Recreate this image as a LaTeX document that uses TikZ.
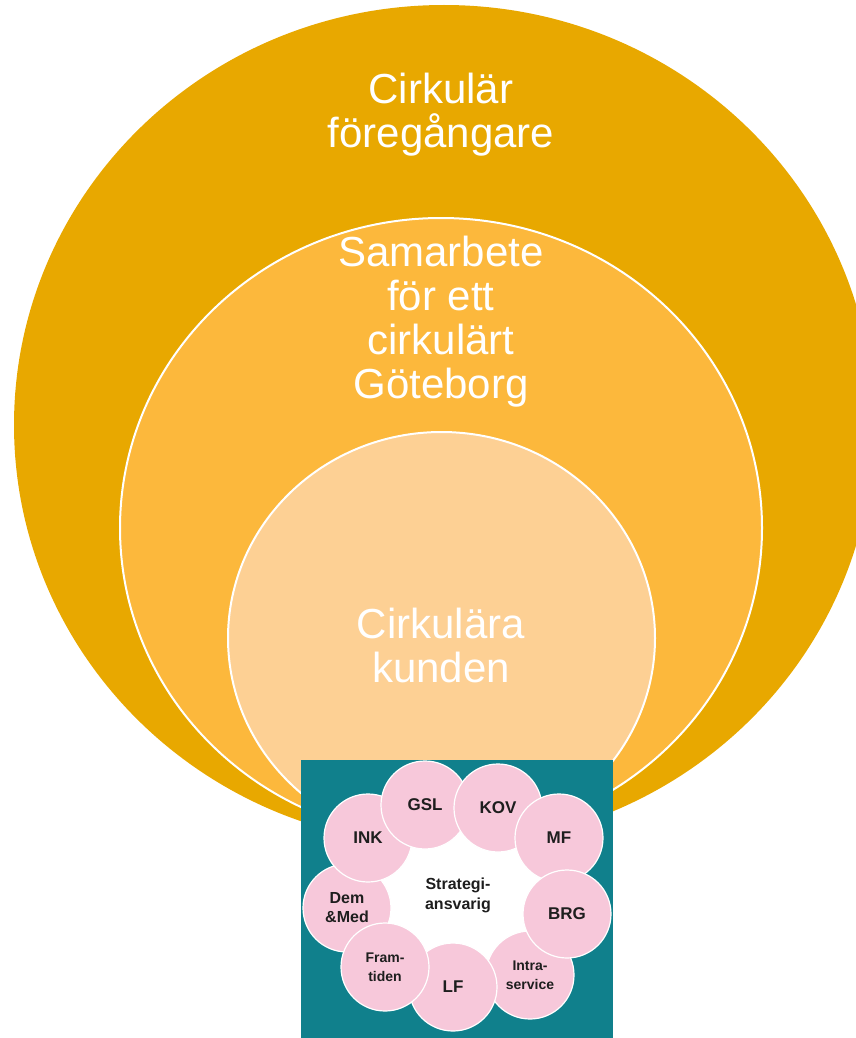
\documentclass[tikz,border=0pt]{standalone}
\usepackage{fontspec}
\setmainfont{Liberation Sans}
\definecolor{outerring}{RGB}{232,168,0}
\definecolor{middlering}{RGB}{252,184,60}
\definecolor{innerring}{RGB}{253,208,148}
\definecolor{teal}{RGB}{16,128,140}
\definecolor{petal}{RGB}{247,200,218}
\definecolor{petaltext}{RGB}{30,30,30}
\begin{document}
\begin{tikzpicture}[x=1pt,y=-1pt,
		biglabel/.style={text=white,align=center,font=\fontsize{42}{44}\selectfont},
		petalnode/.style={circle,fill=petal,draw=white,line width=1.2pt,minimum size=88pt,inner sep=0pt,align=center,text=petaltext}]
		\useasboundingbox (0,0) rectangle (856,1038);
		% the three rings
		\fill[outerring] (444,425) ellipse[x radius=430, y radius=420];
		\draw[fill=middlering,draw=white,line width=2pt] (441,528) ellipse[x radius=321, y radius=310];
		\draw[fill=innerring,draw=white,line width=2pt] (441.5,638) ellipse[x radius=213.5, y radius=206];
		\node[biglabel] (foregangare) at (441,115) {Cirkulär\\föregångare};
		\node[biglabel] (samarbete) at (441,322) {Samarbete\\för ett\\cirkulärt\\Göteborg};
		\node[biglabel] (kunden) at (441,645) {Cirkulära\\kunden};
		% the inset
		\fill[teal] (301,760) rectangle (613,1038);
		\fill[white] (458,900) circle (85);
		\foreach \n/\x/\y/\s/\t in {dem/347/908/16/{Dem\\\&Med},intra/530/975/14/{Intra-\\service},lf/453/987/17/LF,fram/385/967/14/{Fram-\\tiden},ink/368/838/17/INK,gsl/425/805/17/GSL,kov/498/808/17/KOV,mf/559/838/17/MF,brg/567/914/17/BRG}
			\node[petalnode,font=\bfseries\fontsize{\s}{19}\selectfont] (\n) at (\x,\y) {\t};
		\node[align=center,text=petaltext,font=\bfseries\fontsize{16}{20}\selectfont] (strategi) at (458,895) {Strategi-\\ansvarig};
	\end{tikzpicture}
\end{document}
